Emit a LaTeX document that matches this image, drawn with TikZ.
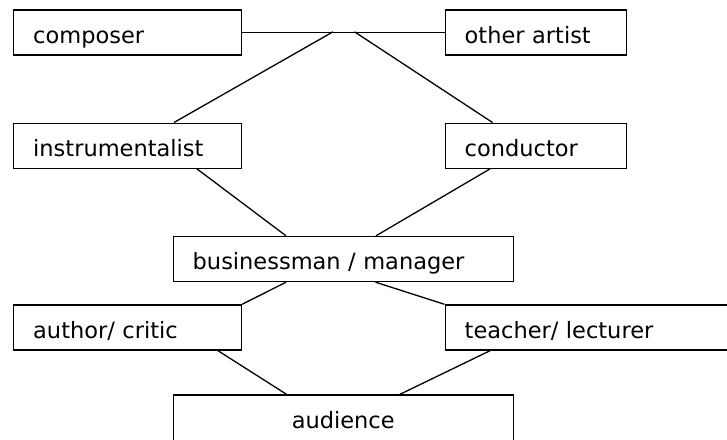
\documentclass[tikz,border=0pt]{standalone}
\usepackage{fontspec}
\setmainfont{DejaVu Sans}
\usetikzlibrary{calc}
\tikzset{
  box/.style={draw, line width=1.4pt, rectangle, anchor=north west,
    inner xsep=19.5pt, inner ysep=0pt, align=left,
    text height=33.4pt, text depth=11.6pt,
    font=\fontsize{22.5}{27}\selectfont},
  link/.style={line width=1.3pt}
}
\begin{document}
\begin{tikzpicture}[x=1pt,y=-1pt]
\clip (0,0) rectangle (727,439);
\fill[white] (0,0) rectangle (727,439);
\node[box, text width=188.7pt] (comp) at (13,9.3) {composer};
\node[box, text width=142.5pt] (other) at (444.5,9.3) {other artist};
\node[box, text width=188.7pt] (instr) at (13,122.5) {instrumentalist};
\node[box, text width=142.5pt] (cond) at (444.5,122.5) {conductor};
\node[box, text width=301pt] (bus) at (172.5,235.8) {businessman / manager};
\node[box, text width=188.7pt] (auth) at (13,304.3) {author/ critic};
\node[box, text width=261pt] (teach) at (444.5,304.3) {teacher/ lecturer};
\node[box, text width=301pt, align=center, text depth=26.6pt] (aud) at (172.5,394.3) {audience};
\coordinate (j1) at (333,31.8);
\coordinate (j2) at (354.5,31.8);
\draw[link] (comp.east) -- (other.west);
\draw[link] (j1) -- ($(instr.north west)+(161,0)$);
\draw[link] (j2) -- ($(cond.north west)+(48,0)$);
\draw[link] ($(instr.south west)+(184,0)$) -- ($(bus.north west)+(113.5,0)$);
\draw[link] ($(cond.south west)+(45.5,0)$) -- ($(bus.north west)+(203.5,0)$);
\draw[link] ($(bus.south west)+(113.5,0)$) -- (auth.north east);
\draw[link] ($(bus.south west)+(203,0)$) -- (teach.north west);
\draw[link] ($(auth.south west)+(205,0)$) -- ($(aud.north west)+(114,0)$);
\draw[link] ($(teach.south west)+(45.5,0)$) -- ($(aud.north west)+(227.5,0)$);
\end{tikzpicture}
\end{document}
